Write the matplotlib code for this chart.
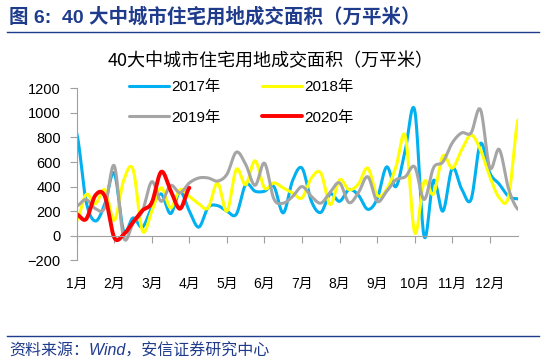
import numpy as np
import matplotlib.pyplot as plt
from matplotlib.lines import Line2D

plt.rcParams['font.family'] = ['Liberation Sans', 'Noto Sans CJK SC']

# weekly values, 4 points per month (万平米)
months = [f'{m}月' for m in range(1, 13)]
y2017 = [834, 280, 120, 260, 510, 40, 145, 70, 230, 340, 180, 360,
         200, 70, 230, 245, 200, 175, 416, 362, 362, 400, 186, 450,
         550, 280, 190, 340, 280, 375, 330, 215, 300, 560, 400, 700,
         1020, -5, 450, 200, 550, 380, 295, 750, 510, 420, 320, 300]
y2018 = [120, 335, 260, 375, 125, 450, 540, 40, 200, 390, 227, 375,
         320, 260, 227, 430, 200, 540, 416, 610, 389, 430, 389, 348,
         308, 470, 510, 254, 456, 375, 420, 550, 330, 375, 560, 810,
         24, 440, 340, 650, 550, 700, 820, 700, 480, 310, 320, 945]
y2019 = [240, 295, 220, 230, 570, -15, 100, 200, 440, 280, 410, 350,
         430, 470, 470, 445, 500, 680, 580, 410, 590, 300, 265, 320,
         400, 320, 265, 355, 430, 270, 350, 480, 280, 360, 455, 480,
         560, 295, 553, 600, 756, 837, 837, 1027, 553, 702, 380, 214]
y2020 = [175, 135, 330, 320, -15, 10, 110, 205, 270, 520, 370, 220, 390]

series = [('2017年', y2017, '#00B0F0', 2.2),
          ('2018年', y2018, '#FFFF00', 2.2),
          ('2019年', y2019, '#A5A5A5', 2.2),
          ('2020年', y2020, '#FF0000', 2.8)]


def smooth(y, n=20):
    # Catmull-Rom curve through the points, like Excel's smoothed line
    y = np.asarray(y, float)
    p = np.concatenate([[y[0]], y, [y[-1]]])
    t = np.linspace(0, 1, n, endpoint=False)
    xs, ys = [], []
    for i in range(len(y) - 1):
        p0, p1, p2, p3 = p[i:i + 4]
        ys.append(0.5 * (2 * p1 + (p2 - p0) * t
                         + (2 * p0 - 5 * p1 + 4 * p2 - p3) * t ** 2
                         + (3 * p1 - p0 - 3 * p2 + p3) * t ** 3))
        xs.append(i + t)
    xs.append([len(y) - 1])
    ys.append([y[-1]])
    return np.concatenate(xs), np.concatenate(ys)


fig = plt.figure(figsize=(5.47, 3.61), dpi=100)
ax = fig.add_axes([0.1402, 0.2790, 0.8068, 0.4764])

handles = {}
for name, vals, color, lw in series:
    xs, ys = smooth(vals)
    handles[name], = ax.plot(xs, ys, color=color, lw=lw, label=name,
                             solid_capstyle='round')

ax.set_xlim(0, 47)
ax.set_ylim(-200, 1200)
ax.set_yticks(range(-200, 1201, 200))
ax.set_xticks(range(0, 48, 4))
ax.set_xticklabels(months)

axis_gray = '#A0A0A0'
for s in ['top', 'right']:
    ax.spines[s].set_visible(False)
ax.spines['left'].set_color(axis_gray)
ax.spines['bottom'].set_color(axis_gray)
ax.spines['bottom'].set_position(('data', 0))
ax.tick_params(axis='y', direction='out', length=5, color=axis_gray,
               labelsize=10.5, pad=6.4)
ax.tick_params(axis='x', direction='out', length=5, color=axis_gray,
               labelsize=10, pad=24.5)

order = ['2017年', '2019年', '2018年', '2020年']
ax.legend([handles[k] for k in order], order, ncol=2, loc='upper left',
          bbox_to_anchor=(129 / 547, 1 - 80 / 361),
          bbox_transform=fig.transFigure, frameon=False, fontsize=11,
          handlelength=2.6, handletextpad=0.15, columnspacing=2.75,
          labelspacing=1.1, borderpad=0, borderaxespad=0)

fig.text(271 / 547, 1 - 61 / 361, '40大中城市住宅用地成交面积（万平米）',
         ha='center', va='center', fontsize=13, family='Noto Sans CJK SC')

navy = '#1F3B8C'
fig.text(9 / 547, 1 - 16.6 / 361, '图 6:  40 大中城市住宅用地成交面积（万平米）',
         ha='left', va='center', fontsize=14, fontweight='bold', color=navy)
fig.add_artist(Line2D([7 / 547, 539 / 547], [1 - 32 / 361] * 2,
                      color=navy, lw=1))
fig.add_artist(Line2D([7 / 547, 539 / 547], [1 - 335.5 / 361] * 2,
                      color=navy, lw=1))
fig.text(9 / 547, 1 - 351 / 361, '资料来源：Wind，安信证券研究中心',
         ha='left', va='center', fontsize=11.5, style='italic', color=navy)

fig.savefig('out.png', dpi=100)
